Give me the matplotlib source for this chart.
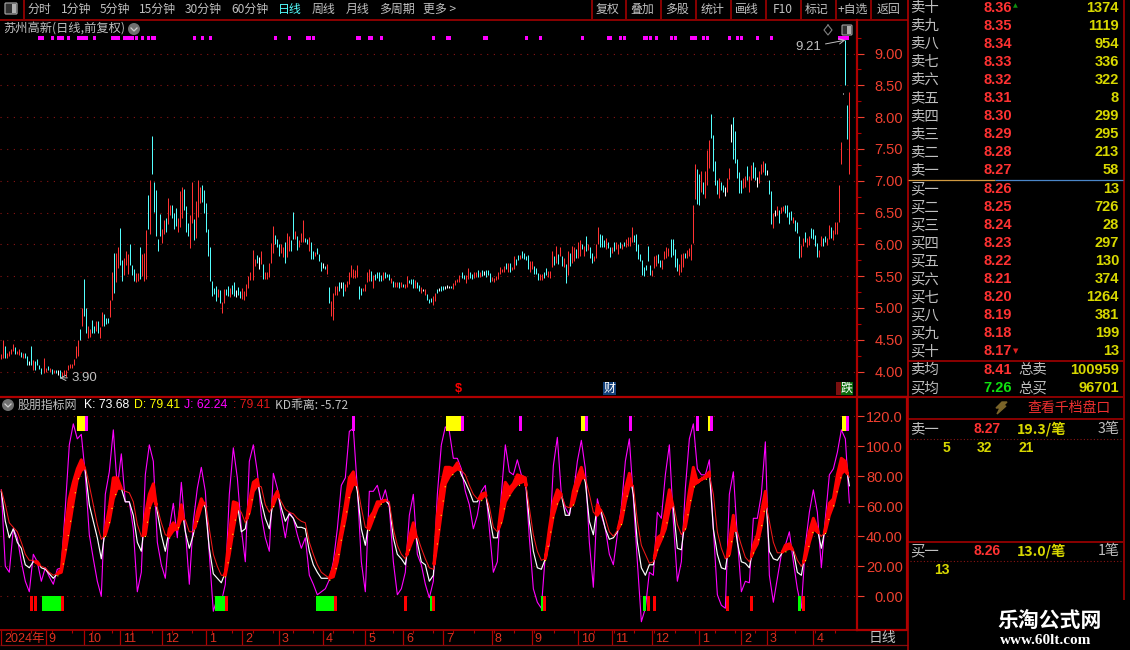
import numpy as np
import matplotlib
matplotlib.use('Agg')
import matplotlib.pyplot as plt
from matplotlib.patches import Rectangle, Circle, FancyBboxPatch

plt.rcParams['font.family'] = ['Noto Sans CJK SC', 'DejaVu Sans']
NUM = ['Liberation Sans', 'Noto Sans CJK SC']

# daily bars
bar_high = [
    4.27,4.49,4.40,4.29,4.32,4.36,4.43,4.39,4.33,4.36,
    4.31,4.29,4.29,4.24,4.17,4.40,4.18,4.17,4.20,4.11,
    4.05,4.21,4.05,4.09,4.06,4.04,4.03,4.02,4.02,4.02,
    4.00,4.02,4.03,4.10,4.12,4.12,4.19,4.40,4.50,4.67,
    5.00,5.46,5.00,4.72,4.67,4.81,4.72,4.79,4.79,4.70,
    4.93,4.90,4.84,4.84,5.12,5.57,5.87,5.87,5.96,6.25,
    5.75,5.78,5.90,5.85,6.00,5.68,5.61,5.55,5.55,5.96,
    5.85,5.87,6.22,6.77,7.01,7.70,6.98,6.85,6.08,6.48,
    6.24,6.38,6.41,6.73,6.62,6.62,6.49,6.57,6.41,6.84,
    6.90,6.87,6.60,6.34,6.46,6.98,6.40,6.68,7.01,6.90,
    6.93,6.85,6.65,6.24,5.95,5.43,5.31,5.35,5.30,5.28,
    5.09,5.30,5.30,5.35,5.31,5.36,5.41,5.28,5.33,5.26,
    5.31,5.27,5.37,5.50,5.56,5.91,5.77,5.83,5.80,5.90,
    5.69,5.56,5.57,5.70,6.02,6.29,6.15,6.08,6.01,6.01,
    5.96,6.03,6.18,6.13,6.06,6.51,6.21,6.13,6.06,6.18,
    6.38,6.10,6.08,6.11,6.04,5.89,5.88,5.94,5.85,5.72,
    5.70,5.66,5.69,5.33,5.11,5.24,5.35,5.35,5.41,5.40,
    5.41,5.38,5.43,5.56,5.68,5.61,5.59,5.68,5.35,5.31,
    5.31,5.37,5.57,5.61,5.58,5.52,5.53,5.56,5.57,5.52,
    5.56,5.56,5.54,5.53,5.47,5.43,5.40,5.41,5.40,5.40,
    5.38,5.38,5.50,5.44,5.45,5.45,5.44,5.41,5.36,5.33,
    5.30,5.29,5.22,5.14,5.15,5.19,5.24,5.30,5.32,5.34,
    5.35,5.35,5.36,5.35,5.35,5.39,5.44,5.45,5.52,5.57,
    5.52,5.52,5.62,5.56,5.54,5.56,5.57,5.60,5.57,5.59,
    5.58,5.59,5.60,5.55,5.48,5.47,5.50,5.56,5.65,5.61,
    5.66,5.71,5.70,5.71,5.65,5.82,5.77,5.83,5.83,5.90,
    5.87,5.82,5.83,5.73,5.73,5.66,5.63,5.55,5.54,5.54,
    5.57,5.63,5.58,5.58,5.90,5.82,5.97,5.84,5.95,5.82,
    5.79,5.69,5.89,5.87,5.97,5.95,5.92,6.03,6.06,6.00,
    5.97,6.13,6.01,5.95,5.87,5.82,6.01,6.27,6.16,6.15,
    6.07,6.10,6.03,5.96,5.95,6.03,6.03,6.01,6.03,6.00,
    6.04,6.08,6.11,6.12,6.27,6.15,6.16,6.01,5.85,5.76,
    5.64,5.67,5.98,5.68,5.59,5.82,5.83,5.84,5.75,5.75,
    5.90,5.95,5.94,6.09,6.09,5.92,5.79,5.69,5.84,5.87,
    5.87,5.91,5.94,6.00,6.62,7.27,7.19,7.10,7.15,6.98,
    7.15,7.49,7.64,8.05,7.72,7.31,7.01,7.04,6.98,6.93,
    6.90,7.05,7.20,7.89,8.00,7.78,7.34,7.14,7.01,7.04,
    7.07,7.23,7.07,7.25,7.29,7.21,7.06,7.15,7.26,7.31,
    7.28,7.17,7.01,6.84,6.49,6.54,6.60,6.54,6.59,6.60,
    6.62,6.62,6.51,6.52,6.43,6.38,6.35,6.13,5.99,6.10,
    6.19,6.10,6.13,6.26,6.24,6.15,6.02,5.91,6.13,6.10,
    6.13,6.10,6.30,6.27,6.23,6.35,6.35,6.93,7.61,8.38,
    9.21,8.19,8.40]
bar_low = [
    4.20,4.22,4.22,4.22,4.25,4.27,4.32,4.27,4.27,4.26,
    4.23,4.22,4.22,4.11,4.10,4.11,4.02,4.03,4.10,4.04,
    3.96,3.98,4.00,4.02,4.00,3.96,3.98,3.98,3.95,3.90,
    3.92,3.95,3.92,4.02,4.05,4.06,4.10,4.22,4.25,4.50,
    4.72,4.88,4.60,4.52,4.54,4.60,4.60,4.63,4.60,4.52,
    4.71,4.72,4.74,4.76,4.86,5.12,5.24,5.40,5.63,5.68,
    5.43,5.52,5.68,5.53,5.68,5.52,5.43,5.40,5.42,5.46,
    5.50,5.42,5.45,6.24,6.16,7.10,6.51,6.13,5.90,6.13,
    6.02,6.16,6.19,6.32,6.46,6.41,6.24,6.29,6.19,6.27,
    6.41,6.54,6.19,6.13,5.94,6.34,6.07,6.10,6.43,6.65,
    6.66,6.49,6.19,5.82,5.43,5.19,5.22,5.11,5.17,5.07,
    4.92,5.07,5.21,5.19,5.17,5.22,5.18,5.17,5.21,5.16,
    5.14,5.13,5.18,5.31,5.44,5.44,5.66,5.70,5.61,5.69,
    5.46,5.46,5.46,5.49,5.71,5.87,6.01,5.95,5.82,5.87,
    5.80,5.71,5.80,5.90,5.90,6.08,6.08,5.91,5.96,6.04,
    6.04,6.03,6.00,5.89,5.77,5.77,5.82,5.84,5.74,5.58,
    5.63,5.61,5.54,5.07,4.88,4.81,5.20,5.21,5.27,5.31,
    5.19,5.26,5.33,5.38,5.48,5.47,5.47,5.48,5.14,5.21,
    5.26,5.27,5.41,5.42,5.43,5.31,5.44,5.47,5.43,5.43,
    5.44,5.47,5.49,5.44,5.39,5.33,5.33,5.33,5.32,5.33,
    5.33,5.31,5.33,5.39,5.38,5.31,5.32,5.31,5.26,5.23,
    5.26,5.21,5.12,5.08,5.10,5.05,5.11,5.23,5.26,5.27,
    5.28,5.30,5.31,5.31,5.31,5.30,5.36,5.40,5.40,5.47,
    5.45,5.39,5.45,5.47,5.45,5.47,5.48,5.49,5.49,5.50,
    5.52,5.49,5.52,5.41,5.43,5.41,5.44,5.45,5.54,5.56,
    5.57,5.61,5.57,5.56,5.59,5.61,5.68,5.75,5.77,5.78,
    5.77,5.75,5.61,5.56,5.61,5.53,5.53,5.44,5.44,5.44,
    5.47,5.52,5.49,5.47,5.64,5.68,5.71,5.69,5.82,5.66,
    5.64,5.39,5.51,5.66,5.71,5.74,5.79,5.79,5.82,5.92,
    5.82,5.90,5.91,5.79,5.70,5.73,5.79,6.01,5.96,5.95,
    5.95,5.93,5.94,5.80,5.87,5.90,5.93,5.85,5.94,5.93,
    5.98,5.95,5.98,5.98,6.03,6.03,5.90,5.77,5.74,5.52,
    5.50,5.59,5.74,5.51,5.50,5.63,5.66,5.70,5.64,5.61,
    5.77,5.78,5.82,5.80,5.83,5.64,5.58,5.51,5.57,5.64,
    5.79,5.78,5.82,5.75,6.02,6.71,6.63,6.62,6.83,6.79,
    6.73,6.93,7.20,7.67,7.15,6.93,6.79,6.73,6.85,6.83,
    6.76,6.83,7.03,7.61,7.34,7.28,7.04,6.81,6.81,6.88,
    6.90,7.01,6.82,7.01,7.04,7.01,6.90,6.96,7.10,7.14,
    7.09,7.09,6.79,6.32,6.26,6.45,6.46,6.34,6.49,6.52,
    6.49,6.43,6.32,6.38,6.34,6.21,6.18,5.79,5.80,5.97,
    6.04,5.96,5.99,6.10,6.08,5.97,5.80,5.80,5.97,5.97,
    6.04,5.99,6.09,6.10,6.07,6.16,6.16,6.35,7.26,8.36,
    8.51,7.66,7.10]
# r up, c down, w flat
bar_dir = ('rrcrrrrcrr' 'crccwcrccc' 'crrcrcrcwc' 'rrrrrrrrrc' 'rccrrccrcr'
           'rcccrrcrrc' 'crrrcccrrc' 'rrrcrccccc' 'rrcrrcccrr' 'rcccrrcrrr'
           'ccccccccrc' 'rrccrccwcc' 'rrrrrrrcwr' 'crrrrrcccr' 'rcrrccrcrr'
           'rccrccrccc' 'wcrcrrrrcw' 'crrrrrrrcc' 'rrrrcrcccc' 'rcccrcrrcr'
           'crrcccrccr' 'wrcccrrcwc' 'cwwwcrrrrc' 'crrccrrcrc' 'wcccrrrrrr'
           'rcrcrrccrc' 'cccrrcccrr' 'ccrrrcrcrc' 'rcrcrrcrrc' 'rcrccrrrcc'
           'crccrcrrcr' 'crrrrccccc' 'ccccrrrccr' 'rrrccccrrr' 'crrrrrccrc'
           'rrrccccrcc' 'wrrwcccccr' 'rcrrccwrrr' 'cwccrwrcrr' 'ccccrcccrr'
           'crrccccrrc' 'crrcrrrrrw' 'ccr')

# K, D, J at every second bar
kdj_k = [70,50,39,45,36,32,21,19,23,23,
    19,18,15,12,15,18,45,65,76,85,
    91,84,61,50,39,25,45,59,79,79,
    72,63,63,54,36,30,54,68,75,56,
    41,30,45,49,45,61,43,32,41,56,
    65,59,32,15,12,9,16,41,63,62,
    43,45,63,76,78,63,52,45,65,70,
    59,50,55,52,46,46,45,30,21,16,
    12,12,12,19,30,45,61,79,83,70,
    45,34,52,56,63,63,64,61,39,28,
    25,21,39,49,36,23,21,10,
    14,54,74,86,86,85,89,81,76,70,
    63,63,68,69,54,39,39,61,76,72,
    75,81,80,79,50,30,19,18,25,45,
    63,71,68,54,54,70,79,86,76,50,
    41,61,56,45,38,39,43,54,72,82,
    68,36,19,14,21,21,39,41,56,71,
    59,32,31,52,70,86,76,78,80,83,
    45,28,19,18,36,54,36,23,22,19,
    34,41,56,70,30,25,24,28,34,35,
    30,16,14,30,43,52,45,32,46,62,
    65,81,92,90,73.68]
kdj_d = [71,61,49,46,43,36,28,24,24,22,
    20,19,16,14,15,16,30,46,63,78,
    84,86,74,61,48,38,41,50,65,72,
    72,70,69,63,48,40,41,59,66,59,
    49,41,40,44,45,52,51,43,43,51,
    60,63,45,28,20,14,14,28,45,59,
    56,49,56,70,74,73,61,56,61,68,
    63,58,56,55,52,50,49,36,28,21,
    16,14,12,13,23,39,52,68,75,74,
    59,46,45,52,59,63,64,63,45,34,
    28,25,32,39,40,32,25,19,
    18,36,56,75,80,83,85,84,81,74,
    68,65,65,68,60,46,43,50,63,68,
    72,75,76,77,59,41,30,24,25,39,
    54,63,68,60,59,62,72,79,79,68,
    56,54,58,52,43,40,44,49,63,74,
    74,50,34,28,22,23,32,38,45,58,
    62,48,41,46,61,74,76,78,79,81,
    68,43,32,25,28,45,43,34,26,23,
    30,35,47,63,50,36,29,29,31,32,
    31,24,20,25,36,45,43,40,43,54,
    61,72,82,84,79.41]
kdj_j = [71,20,16,45,39,23,10,3,28,23,
    10,19,13,8,18,19,59,101,115,105,
    108,81,41,25,10,0,68,83,111,72,
    95,63,63,45,3,16,81,101,90,36,
    21,12,45,62,39,76,45,8,50,72,
    86,70,28,-10,-1,-4,8,68,99,79,
    45,23,90,101,83,54,39,30,82,72,
    54,39,56,52,41,32,39,14,8,1,
    3,5,11,23,45,74,79,110,112,72,
    23,3,70,70,74,63,71,59,23,1,
    5,16,54,68,28,21,8,-1,
    10,68,101,113,110,92,92,85,70,61,
    45,54,70,74,45,16,23,68,101,83,
    81,91,81,79,39,5,-4,-8,28,34,
    87,106,68,59,54,68,90,104,85,36,
    6,65,54,45,28,21,41,59,90,105,
    65,23,-17,-8,16,14,56,52,81,101,
    50,10,23,72,105,115,85,81,81,91,
    45,1,-6,-8,68,83,39,3,10,9,
    52,52,68,103,14,-4,12,28,34,43,
    23,5,-8,34,56,71,56,19,52,81,
    85,96,111,105,62.24]

# signal bars
sig_price = [19,20,25,28,29,30,33,38,39,40,41,42,46,55,56,57,58,61,62,63,64,65,67,70,73,75,76,
             96,100,104,136,143,152,153,155,177,178,183,184,189,215,222,223,240,241,261,268,289,
             302,303,308,310,320,321,323,326,333,335,343,344,345,349,351,362,366,368,376,383,
             417,418,419,420,421]
sig_top_yellow = [38,39,40,41,222,223,224,225,226,227,228,289,290,352,419,420]
sig_top_pink = [42,175,229,258,291,313,346,353,421]
sig_low_green = [21,22,23,24,25,26,27,28,29,107,108,109,110,111,157,158,159,160,161,162,163,164,165,
                 214,269,320,397]
sig_low_red = [15,17,30,112,166,201,215,270,322,325,361,373,399]

price_ticks = [4.0,4.5,5.0,5.5,6.0,6.5,7.0,7.5,8.0,8.5,9.0]
kdj_ticks = [0,20,40,60,80,100,120]
kdj_tick_labels = ['0.00','20.00','40.00','60.00','80.00','100.0','120.0']
month_bars = [0,22,41,59,80,102,120,138,160,181,200,220,244,264,287,304,324,347,368,381,404]
month_labels = ['2024年','9','10','11','12','1','2','3','4','5','6','7','8','9','10','11','12','1','2','3','4']

tool_left = ['分时','1分钟','5分钟','15分钟','30分钟','60分钟','日线','周线','月线','多周期','更多 >']
tool_left_x = [28,61,100,139,185,231,278,312,346,379,423]
tool_right = ['复权','叠加','多股','统计','画线','F10','标记','+自选','返回']
tool_right_x = [608,642,677,712,747,783,817,853,888]

ask_names = ['卖十','卖九','卖八','卖七','卖六','卖五','卖四','卖三','卖二','卖一']
ask_price = ['8.36','8.35','8.34','8.33','8.32','8.31','8.30','8.29','8.28','8.27']
ask_vol = [1374,1119,954,336,322,8,299,295,213,58]
bid_names = ['买一','买二','买三','买四','买五','买六','买七','买八','买九','买十']
bid_price = ['8.26','8.25','8.24','8.23','8.22','8.21','8.20','8.19','8.18','8.17']
bid_vol = [13,726,28,297,130,374,1264,381,199,13]

W, H = 1130, 650
RED = '#ff3232'
LINE = '#b00000'
GRID = '#8a1414'
GRAY = '#c0c0c0'
YEL = '#d8d800'
PINK = '#ff00ff'

high = np.array(bar_high)
low = np.array(bar_low)
dirs = np.array(list(bar_dir))
x = np.arange(len(high))
XLIM = (-0.65, 425.8)

fig = plt.figure(figsize=(W / 100, H / 100), dpi=100, facecolor='black')

def box(x0, y0, x1, y1):
    return [x0 / W, 1 - y1 / H, (x1 - x0) / W, (y1 - y0) / H]

def style(ax, ticks, labels):
    ax.set_facecolor('black')
    ax.set_xlim(*XLIM)
    for s in ['top', 'left', 'bottom']:
        ax.spines[s].set_visible(False)
    ax.spines['right'].set_color(LINE)
    ax.spines['right'].set_linewidth(1.6)
    ax.set_yticks(ticks)
    ax.set_yticklabels(labels, color='#f04030', fontsize=10.5, family=NUM, ha='right')
    ax.tick_params(axis='y', which='major', left=False, right=True, labelleft=False, labelright=True,
                   colors='#f04030', length=5, width=0.8, pad=28, labelcolor='#f04030')
    ax.grid(axis='y', color=GRID, linestyle=(0, (1, 5)), linewidth=0.8)
    ax.set_axisbelow(True)

# price panel
ax = fig.add_axes(box(0, 20, 857, 396))
ax.set_ylim(3.615, 9.527)
style(ax, price_ticks, ['%.2f' % v for v in price_ticks])
ax.set_yticks(np.arange(4.25, 9.3, 0.5), minor=True)
ax.tick_params(axis='y', which='minor', left=False, right=True, color=LINE, length=3, width=0.8)
ax.set_xticks([])
for d, col in [('r', RED), ('c', '#54ffff'), ('w', 'white')]:
    m = dirs == d
    lines = ax.vlines(x[m], low[m], high[m], colors=col, linewidth=0.72)
    lines.set_snap(True)
ax.bar(np.array(sig_price) + 0.25, 0.05, width=1.5, bottom=9.22, color=PINK, linewidth=0, antialiased=False)

hi = int(high.argmax())
lo = int(low.argmin())
ax.annotate('%.2f' % high[hi], xy=(x[hi], high[hi]), xytext=(-24, -7), textcoords='offset pixels',
            color=GRAY, fontsize=9.5, family=NUM, ha='right', va='center',
            arrowprops=dict(arrowstyle='->', color=GRAY, lw=0.7, shrinkA=1, shrinkB=0))
ax.annotate('%.2f' % low[lo], xy=(x[lo], low[lo]), xytext=(12, 0), textcoords='offset pixels',
            color=GRAY, fontsize=9.5, family=NUM, ha='left', va='center',
            arrowprops=dict(arrowstyle='->', color=GRAY, lw=0.7, shrinkA=1, shrinkB=0))

# KDJ panel
ax2 = fig.add_axes(box(0, 397, 857, 630))
ax2.set_ylim(-22.5, 132.9)
style(ax2, kdj_ticks, kdj_tick_labels)
ax2.spines['bottom'].set_visible(True)
ax2.spines['bottom'].set_color(LINE)
ax2.spines['bottom'].set_linewidth(1.2)
k = np.array(kdj_k, dtype=float)
d = np.array(kdj_d, dtype=float)
j = np.array(kdj_j, dtype=float)
kx = np.linspace(0, len(high) - 1, len(k))
ax2.plot(kx, j, color=PINK, lw=0.8, zorder=3)
ax2.plot(kx, k, color='white', lw=0.85, zorder=4)
ax2.plot(kx, d, color='#f01818', lw=0.75, zorder=5)
ax2.fill_between(kx, d, k, where=k >= d, interpolate=True, color='#ff0000', linewidth=2.2, zorder=6)
ax2.plot(kx, np.where(k >= d, d - 1.5, np.nan), color='#ffff00', lw=0.8, ls=(0, (1, 12)), zorder=7)
ax2.bar(np.array(sig_top_yellow) + 0.25, 10, width=1.6, bottom=110, color='#ffff00', linewidth=0, zorder=7, antialiased=False)
ax2.bar(np.array(sig_top_pink) + 0.25, 10, width=1.5, bottom=110, color=PINK, linewidth=0, zorder=8, antialiased=False)
ax2.bar(np.array(sig_low_green) + 0.25, 10, width=1.6, bottom=-10, color='#00ff00', linewidth=0, zorder=7, antialiased=False)
ax2.bar(np.array(sig_low_red) + 0.25, 10, width=1.5, bottom=-10, color='#ff0000', linewidth=0, zorder=8, antialiased=False)
ax2.set_xticks(month_bars)
ax2.set_xticklabels([])
ax2.set_xticks(np.arange(5, 425, 10), minor=True)
ax2.tick_params(axis='x', which='major', length=11, color=LINE, width=0.9)
ax2.tick_params(axis='x', which='minor', length=2.5, color=LINE, width=0.8)
for b, lab in zip(month_bars, month_labels):
    ax2.annotate(lab, xy=(b, 0), xycoords=('data', 'axes fraction'), xytext=(3, -9), textcoords='offset pixels',
                 color='#e03020', fontsize=9, family=NUM, va='center', ha='left', annotation_clip=False)

# screen furniture, in pixels
ov = fig.add_axes([0, 0, 1, 1], zorder=20)
ov.set_xlim(0, W)
ov.set_ylim(H, 0)
ov.axis('off')
ov.patch.set_alpha(0)

def T(px, py, s, color=GRAY, size=8.6, ha='left', **kw):
    ov.text(px, py, s, color=color, fontsize=size, ha=ha, va='center', **kw)

def hl(y, x0, x1, c=LINE, lw=1.1, **kw):
    ov.plot([x0, x1], [y, y], color=c, lw=lw, solid_capstyle='butt', **kw)

def vl(px, y0, y1, c=LINE, lw=1.1):
    ov.plot([px, px], [y0, y1], color=c, lw=lw, solid_capstyle='butt')

# toolbar
hl(19.5, 0, 908)
vl(23.5, 0, 19)
ov.add_patch(FancyBboxPatch((6, 4), 10, 9, boxstyle='round,pad=1', fc='#303030', ec='#a0a0a0', lw=0.9))
ov.add_patch(Rectangle((12, 4), 4, 9, fc='#b0b0b0', ec='none'))
for s, px in zip(tool_left, tool_left_x):
    T(px, 9.5, s, color='#54ffff' if s == '日线' else GRAY)
for s, px in zip(tool_right, tool_right_x):
    T(px, 9.5, s, ha='center')
for px in [591, 625, 660, 695, 730, 765, 800, 835, 870]:
    vl(px + 0.5, 0, 19)

# captions
T(3, 29, '苏州高新(日线,前复权)', size=8.8)
ov.add_patch(Circle((134, 29), 6, fc='#707070', ec='none'))
ov.plot([131, 134, 137], [28, 31, 28], color='#d0d0d0', lw=0.9)
ov.plot([828, 832, 828, 824, 828], [25, 30, 35, 30, 25], color='#808080', lw=0.8)
ov.add_patch(FancyBboxPatch((843, 26), 8, 8, boxstyle='round,pad=1', fc='#303030', ec='#a0a0a0', lw=0.8))
ov.add_patch(Rectangle((847, 26), 4, 8, fc='#b0b0b0', ec='none'))
ov.add_patch(Circle((8, 405), 6, fc='#707070', ec='none'))
ov.plot([5, 8, 11], [404, 407, 404], color='#d0d0d0', lw=0.9)
T(18, 405, '股朋指标网', size=8.6)
T(84, 405, 'K: 73.68', color='white', size=8.8, family=NUM)
T(134, 405, 'D: 79.41', color='#ffff00', size=8.8, family=NUM)
T(184, 405, 'J: 62.24', color=PINK, size=8.8, family=NUM)
T(233, 405, ': 79.41', color='#e01818', size=8.8, family=NUM)
T(275, 405, 'KD乖离: -5.72', size=8.6)

# event flags
T(458.5, 389.5, '$', color='#ff0000', size=9, ha='center', fontweight='bold', family=NUM)
ov.add_patch(Rectangle((603, 382), 13, 13, fc='#12407a', ec='none'))
T(609.5, 388.5, '财', color='white', size=8.6, ha='center')
ov.add_patch(Rectangle((836, 382), 5, 13, fc='#7a1010', ec='none'))
ov.add_patch(Rectangle((841, 382), 12, 13, fc='#0a6a0a', ec='none'))
T(847, 388.5, '跌', color='white', size=8.6, ha='center')

# frame of the scales
hl(397, 0, 908, c=LINE, lw=1.6)
vl(907.5, 0, 630, lw=1.2)
ov.plot([857, 907, 907, 857], [397, 397, 630, 630], color=LINE, lw=1.6)
hl(630, 857, 907)
hl(645, 0, 908, c='#801010', lw=0.9)
T(882, 638, '日线', size=10, ha='center')
vl(907.5, 630, 650)

# quote panel
vl(1123.5, 0, 600)
rows_a = [8, 26, 44, 62, 80, 98, 116, 134, 152, 170]
rows_b = [189, 207, 225, 243, 261, 279, 297, 315, 333, 351]
for names, prices, vols, rows in [(ask_names, ask_price, ask_vol, rows_a), (bid_names, bid_price, bid_vol, rows_b)]:
    for n, p, v, y in zip(names, prices, vols, rows):
        T(910, y, n, size=10.4)
        T(983, y, p, color=RED, size=10.5, family=NUM, fontweight='bold')
        T(1119, y, str(v), color=YEL, size=10.5, ha='right', family=NUM, fontweight='bold')
T(1013, 6, '▲', color='#109010', size=4.5, family='DejaVu Sans')
T(1013, 351, '▼', color='#e02020', size=5, family='DejaVu Sans')
hl(179.5, 908, 995, c='#d09a40', lw=0.9)
hl(179.5, 995, 1123, c='#4a86c8', lw=0.9)
hl(360.5, 908, 1123)
hl(397, 908, 1123)
hl(419, 908, 1123)
hl(542, 908, 1123)
hl(439, 910, 1121, c=GRID, lw=0.8, ls=(0, (1, 2)))
hl(561, 910, 1121, c=GRID, lw=0.8, ls=(0, (1, 2)))
T(910, 370, '卖均', size=10.4)
T(910, 388, '买均', size=10.4)
T(983, 370, '8.41', color=RED, size=10.5, family=NUM, fontweight='bold')
T(983, 388, '7.26', color='#10e010', size=10.5, family=NUM, fontweight='bold')
T(1018, 370, '总卖', size=10.4)
T(1018, 388, '总买', size=10.4)
T(1119, 370, '100959', color=YEL, size=10.5, ha='right', family=NUM, fontweight='bold')
T(1119, 388, '96701', color=YEL, size=10.5, ha='right', family=NUM, fontweight='bold')
ov.fill([1002, 1007, 1003, 1006, 997, 1000, 996], [402, 402, 406, 406, 414, 408, 408], color='#7a6428')
T(1027, 408, '查看千档盘口', color='#f03030', size=10)
T(910, 429, '卖一', size=10.4)
T(973, 429, '8.27', color=RED, size=10, family=NUM, fontweight='bold')
T(1017, 429, '19.3/笔', color=YEL, size=10.2, fontweight='bold')
T(1120, 429, '3笔', size=10.2, ha='right')
for s, px in zip(['5', '32', '21'], [946, 984, 1026]):
    T(px, 448, s, color=YEL, size=10, ha='center', family=NUM, fontweight='bold')
T(910, 551, '买一', size=10.4)
T(973, 551, '8.26', color=RED, size=10, family=NUM, fontweight='bold')
T(1017, 551, '13.0/笔', color=YEL, size=10.2, fontweight='bold')
T(1120, 551, '1笔', size=10.2, ha='right')
T(942, 570, '13', color=YEL, size=10, ha='center', family=NUM, fontweight='bold')

# watermark
T(1050, 620, '乐淘公式网', color='white', size=15, ha='center', fontweight='bold')
T(1046, 640, 'www.60lt.com', color='white', size=11, ha='center', family='Liberation Serif', fontweight='bold')

fig.savefig('out.png', dpi=100, facecolor='black')
